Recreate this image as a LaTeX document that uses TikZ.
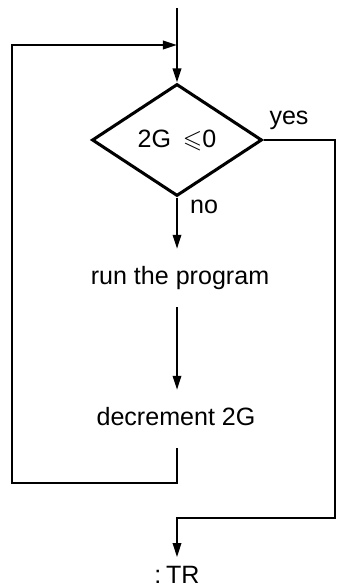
\documentclass[tikz,border=0pt]{standalone}
\usepackage{amsmath,amssymb}
\usepackage{fontspec}
\setmainfont{Liberation Sans}
\usetikzlibrary{arrows.meta,shapes.geometric}

\begin{document}
\begin{tikzpicture}[x=0.015cm,y=-0.015cm,line width=0.9pt,>={Triangle[length=6pt,width=3.6pt]},
  txt/.style={font=\fontsize{10.7}{13}\selectfont,text height=7.7pt,text depth=2.3pt,inner xsep=0pt,inner ysep=7pt},
  lbl/.style={font=\fontsize{10.7}{13}\selectfont,inner sep=0pt}]
\useasboundingbox (0,0) rectangle (336,586);
\coordinate (start) at (177,8);
\coordinate (merge) at (177,45);
\node[draw,diamond,line width=1.3pt,minimum width=2.55cm,minimum height=1.68cm,inner sep=0pt,font=\fontsize{10.7}{13}\selectfont] (cond) at (177,140) {2G\kern2pt{} $\leqslant$0};
\node[lbl] (yes) at (289,120) {yes};
\node[lbl] (no) at (204,207) {no};
\node[txt] (run) at (180,278) {run the program};
\node[txt] (dec) at (176,419) {decrement 2G};
\node[lbl] (tr) at (177,575) {:\kern2pt TR};
\coordinate (loopL) at (12,483);
\coordinate (yesR) at (335,518);
% main line
\draw[->] (start) -- (cond.north);
\draw[->] (cond.south) -- (run.north -| cond.south);
\draw[->] (run.south -| cond.south) -- (dec.north -| cond.south);
% back to the test
\draw[->] (dec.south -| cond.south) |- (loopL) |- (merge);
% way out
\draw[->,shorten >=3.5pt] (cond.east) -| (yesR) -| (tr.north);
\end{tikzpicture}
\end{document}
